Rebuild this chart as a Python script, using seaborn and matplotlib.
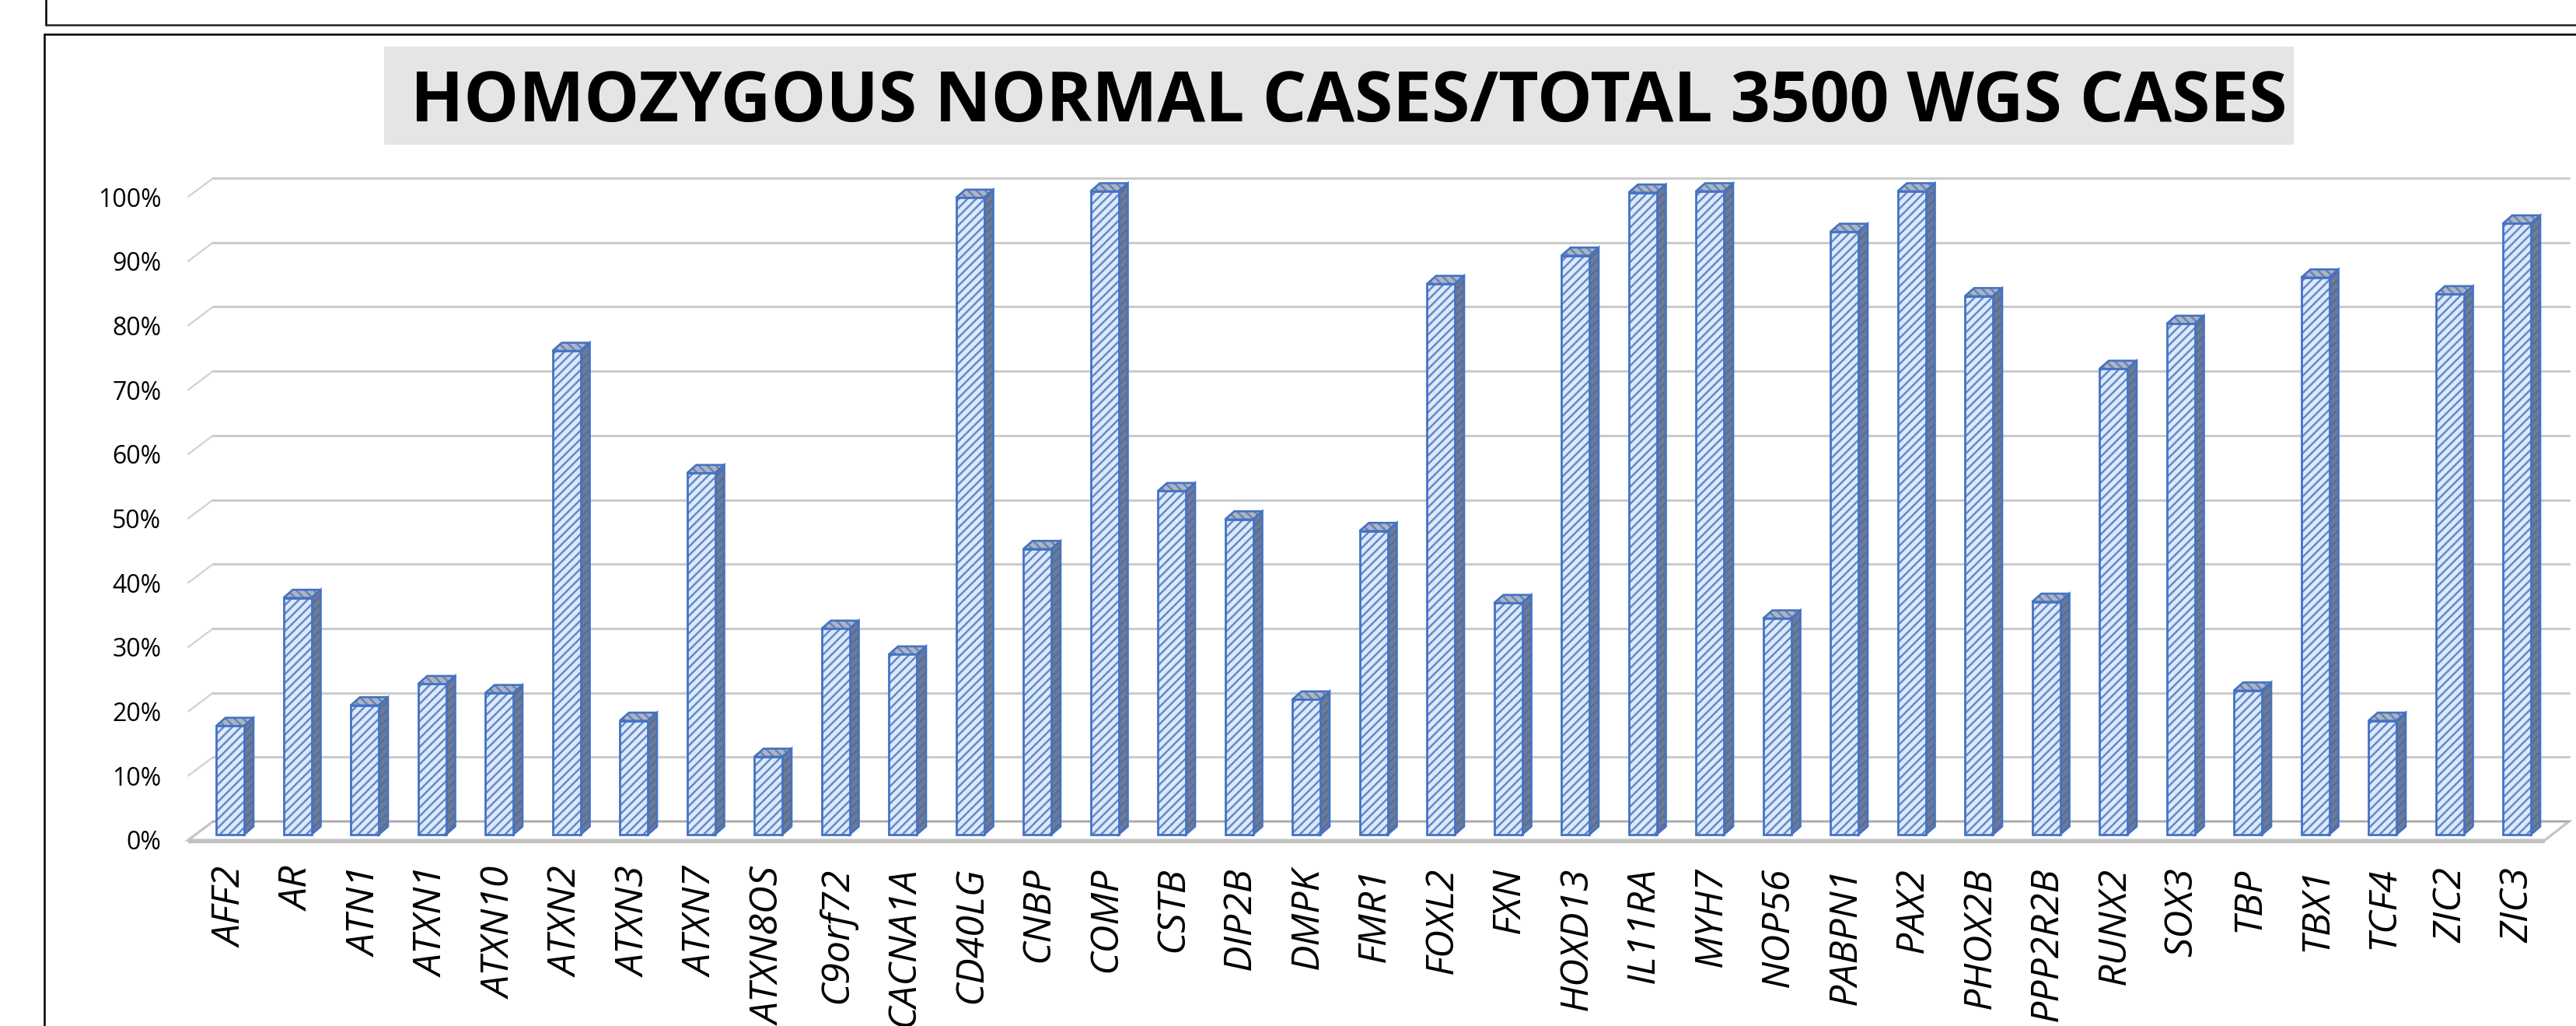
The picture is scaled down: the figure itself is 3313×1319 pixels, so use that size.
import matplotlib
matplotlib.use("Agg")
import matplotlib.pyplot as plt
from matplotlib.patches import Polygon, Rectangle
from matplotlib.transforms import ScaledTranslation
import pandas as pd
import seaborn as sns

genes = ["AFF2","AR","ATN1","ATXN1","ATXN10","ATXN2","ATXN3","ATXN7","ATXN8OS","C9orf72","CACNA1A","CD40LG",
         "CNBP","COMP","CSTB","DIP2B","DMPK","FMR1","FOXL2","FXN","HOXD13","IL11RA","MYH7","NOP56","PABPN1",
         "PAX2","PHOX2B","PPP2R2B","RUNX2","SOX3","TBP","TBX1","TCF4","ZIC2","ZIC3"]
values = [16.9,36.8,20.1,23.4,22,75.2,17.7,56.2,12.1,32,28,99,44.4,100,53.4,49,21,47.2,85.6,36,90,99.8,100,33.6,
          93.7,100,83.7,36.2,72.4,79.4,22.4,86.6,17.7,84,95]
yticks = list(range(0, 101, 10))
title = "HOMOZYGOUS NORMAL CASES/TOTAL 3500 WGS CASES"

W, H, DPI = 3313, 1319, 100
EDGE = "#4472C4"
sns.set_theme(style="white")
plt.rcParams["font.family"] = ["Open Sans", "DejaVu Sans"]
plt.rcParams["hatch.linewidth"] = 1.8

fig = plt.figure(figsize=(W / DPI, H / DPI), dpi=DPI, facecolor="white")

# Axes frame in pixels: x 242..3304, y 229..1080
L, R, T, B = 242, 3304, 229, 1080
ax = fig.add_axes([L / W, 1 - B / H, (R - L) / W, (B - T) / H])
pitch, first, zero, per = 86.5, 296, 1073, 8.27
ax.patch.set_alpha(0)

df = pd.DataFrame({"gene": genes, "value": values})
# The patch edge colour sets the hatch colour, so outlines are drawn separately
sns.barplot(data=df, x="gene", y="value", ax=ax, width=36 / pitch, color="#DCE9FA", saturation=1,
            edgecolor="#6488CB", linewidth=0, hatch="///", zorder=5)
ax.set_xlim((L - first) / pitch, (R - first) / pitch)
ax.set_ylim((zero - B) / per, (zero - T) / per)
ax.set_xlabel("")
ax.set_ylabel("")
sns.despine(ax=ax, left=True, bottom=True, top=True, right=True)


def face(points, fill, hatch_color, hatch, z):
    ax.add_patch(Polygon(points, closed=True, facecolor=fill, edgecolor=hatch_color, linewidth=0, hatch=hatch,
                         zorder=z, clip_on=False))
    ax.add_patch(Polygon(points, closed=True, fill=False, edgecolor=EDGE, linewidth=1.9, zorder=z + 0.1,
                         clip_on=False))


dx, dy = 12 / pitch, 10.5 / per
for p in list(ax.patches):
    x0, w, h = p.get_x(), p.get_width(), p.get_height()
    x1 = x0 + w
    ax.add_patch(Rectangle((x0, 0), w, h, fill=False, edgecolor=EDGE, linewidth=2, zorder=6, clip_on=False))
    face([(x1, 0), (x1 + dx, dy), (x1 + dx, h + dy), (x1, h)], "#6B7B98", "#5A6D92", "///", 4)
    face([(x0, h), (x0 + dx, h + dy), (x1 + dx, h + dy), (x1, h)], "#A9B5C9", "#6F83A6", "\\\\\\", 4)

# Back wall gridlines with the left wall slant (pixel-to-data helpers)
xd = lambda px: (px - first) / pitch
yd = lambda py: (zero - py) / per
for v in yticks[1:]:
    front, back = 1080 - 8.27 * v, 1056 - 8.27 * v
    ax.plot([xd(242), xd(274)], [yd(front), yd(back)], color="#D2D2D2", lw=1.6, clip_on=False, zorder=1)
    ax.plot([xd(274), xd(3304)], [yd(back), yd(back)], color="#CBCBCB", lw=2.2, clip_on=False, zorder=1)

# Floor
ax.add_patch(Polygon([(xd(242), yd(1080)), (xd(274), yd(1056)), (xd(3304), yd(1056)), (xd(3273), yd(1080))],
                     closed=True, facecolor="white", edgecolor="#C6C6C6", linewidth=2.4, zorder=2, clip_on=False))
ax.plot([xd(242), xd(3273)], [yd(1081.5), yd(1081.5)], color="#C0C0C0", lw=3, clip_on=False, zorder=2,
        solid_capstyle="butt")
ax.plot([xd(274), xd(3304)], [yd(1056), yd(1056)], color="#A9A9A9", lw=1.4, clip_on=False, zorder=3)

# Ticks
ax.set_yticks(yticks)
ax.set_yticklabels([f"{v}%" for v in yticks], fontsize=23, color="black")
ax.tick_params(axis="y", length=0, pad=25)
ax.tick_params(axis="x", length=0, pad=25)
ax.set_xticks(range(len(genes)))
ax.set_xticklabels(genes, rotation=90, fontstyle="italic", fontsize=36, color="black", ha="center", va="top")
shift_x = ScaledTranslation(2 / DPI, 0, fig.dpi_scale_trans)
shift_y = ScaledTranslation(0, -7 / DPI, fig.dpi_scale_trans)
for t in ax.get_xticklabels():
    t.set_transform(t.get_transform() + shift_x)
for t in ax.get_yticklabels():
    t.set_transform(t.get_transform() + shift_y)

# Title band and panel frames
fig.add_artist(Rectangle((494 / W, 1 - 186 / H), (2950 - 494) / W, 126 / H, transform=fig.transFigure,
                         facecolor="#E5E5E5", edgecolor="none", zorder=0))
fig.text(1735 / W, 1 - 133 / H, title, fontsize=64.3, fontweight="bold", color="black", ha="center", va="center")
fig.add_artist(plt.Line2D([57 / W, 57 / W], [0, 1 - 44 / H], color="black", lw=1.8))
fig.add_artist(plt.Line2D([57 / W, 1], [1 - 44 / H, 1 - 44 / H], color="black", lw=1.8))
fig.add_artist(plt.Line2D([59 / W, 59 / W], [1 - 32 / H, 1], color="black", lw=1.8))
fig.add_artist(plt.Line2D([59 / W, 1], [1 - 32 / H, 1 - 32 / H], color="#222222", lw=1.8))

fig.savefig("out.png", dpi=DPI)
